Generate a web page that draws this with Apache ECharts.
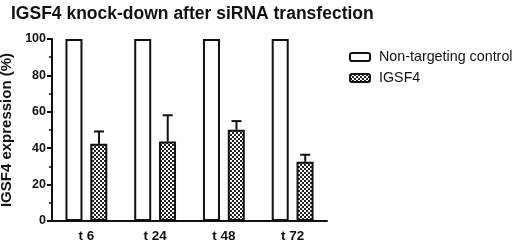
<!DOCTYPE html>
<html><head><meta charset="utf-8">
<script src="https://cdn.jsdelivr.net/npm/echarts@6/dist/echarts.min.js"></script>
<style>html,body{margin:0;padding:0;background:#fff}#c{width:520px;height:244px}</style>
</head><body><div id="c"></div>
<script>
const categories = ['t 6', 't 24', 't 48', 't 72'];
const controlValues = [100, 100, 100, 100];
const igsf4Values = [42.4, 43.7, 50.1, 32.5];
const igsf4Errors = [6.8, 14.4, 4.8, 3.9];
const yTicks = [0, 20, 40, 60, 80, 100];

const pc = document.createElement('canvas');
pc.width = 4; pc.height = 4;
const g = pc.getContext('2d');
g.fillStyle = '#fff'; g.fillRect(0,0,4,4);
g.fillStyle = '#222'; g.fillRect(0,0,2,2); g.fillRect(2,2,2,2);

const FONT = 'Arial, "Liberation Sans", sans-serif';
const chart = echarts.init(document.getElementById('c'), null, {renderer:'canvas'});
const errOffset = 12.6;
chart.setOption({
  animation:false,
  title:{text:'IGSF4 knock-down after siRNA transfection', left:6, top:0,
    textStyle:{fontFamily:FONT, fontWeight:'bold', fontSize:17.5, color:'#111'}},
  legend:{left:344, top:45, orient:'vertical', itemWidth:20, itemHeight:8, itemGap:7,
    textStyle:{fontFamily:FONT, fontSize:14.3, color:'#111', lineHeight:14, padding:[0,0,0,4]},
    data:['Non-targeting control','IGSF4']},
  grid:{left:52, right:193, top:39, bottom:23, containLabel:false, outerBoundsMode:'none'},
  xAxis:{type:'category', data:categories,
    axisLine:{lineStyle:{color:'#111', width:2}}, axisTick:{show:false},
    axisLabel:{fontFamily:FONT, fontWeight:'bold', fontSize:13.5, color:'#111', margin:8}},
  yAxis:{type:'value', min:0, max:100, interval:20,
    name:'IGSF4 expression (%)', nameLocation:'middle', nameGap:33, nameRotate:90,
    nameTextStyle:{fontFamily:FONT, fontWeight:'bold', fontSize:15, color:'#111'},
    axisLine:{show:true, lineStyle:{color:'#111', width:2}},
    axisTick:{show:true, length:5, lineStyle:{color:'#111', width:2}},
    minorTick:{show:true, splitNumber:2, length:3, lineStyle:{color:'#111', width:1.5}},
    splitLine:{show:false},
    axisLabel:{fontFamily:FONT, fontWeight:'bold', fontSize:12.5, color:'#111', margin:6,
      formatter:v=>yTicks.includes(v)?String(v):''}},
  series:[
    {name:'Non-targeting control', type:'bar', data:controlValues, barWidth:17, barGap:'46%',
      itemStyle:{color:'#fff', borderColor:'#111', borderWidth:2}},
    {name:'IGSF4', type:'bar', data:igsf4Values, barWidth:17,
      itemStyle:{color:{image:pc, repeat:'repeat'}, borderColor:'#111', borderWidth:2}},
    {type:'custom', name:'err', z:1,
      data:igsf4Values.map((v,i)=>[i, v, v+igsf4Errors[i]]),
      renderItem:(params, api)=>{
        const lo = api.coord([api.value(0), api.value(1)]);
        const hi = api.coord([api.value(0), api.value(2)]);
        const x = lo[0] + errOffset;
        return {type:'group', children:[
          {type:'line', shape:{x1:x, y1:lo[1], x2:x, y2:hi[1]}, style:{stroke:'#111', lineWidth:2}},
          {type:'line', shape:{x1:x-5, y1:hi[1], x2:x+5, y2:hi[1]}, style:{stroke:'#111', lineWidth:2}}
        ]};
      }}
  ]
});
</script></body></html>
